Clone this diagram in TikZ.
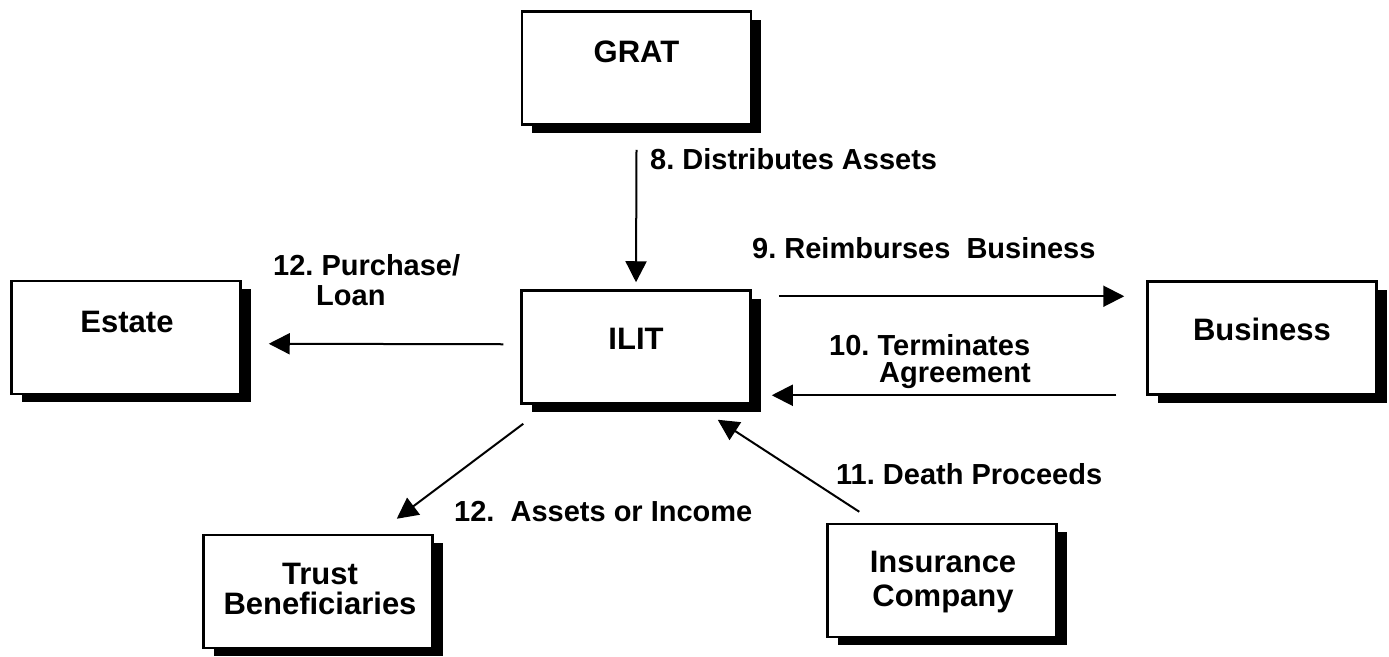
\documentclass[tikz,border=0pt]{standalone}
\usepackage{fontspec}
\setmainfont{Liberation Sans}
\usetikzlibrary{arrows.meta,shadows}
\frenchspacing
\begin{document}
\begin{tikzpicture}[x=1pt,y=-1pt,
  box/.style={draw, line width=2.5pt, fill=white, minimum width=229pt, minimum height=113pt, inner sep=0pt,
    drop shadow={shadow xshift=10pt, shadow yshift=-8pt, fill=black, opacity=1}},
  boxtext/.style={anchor=base, font=\fontsize{31}{31}\selectfont\bfseries, inner sep=0pt},
  lbl/.style={anchor=base west, font=\fontsize{29}{29}\selectfont\bfseries, inner sep=0pt},
  arr/.style={line width=2pt, -{Triangle[length=21pt,width=21pt]}}]
\useasboundingbox (0,0) rectangle (1389,656);

% boxes
\node[box] (grat) at (636.5,68) {};
\node[box] (estate) at (126,337.5) {};
\node[box] (ilit) at (636,347) {};
\node[box] (business) at (1262,338) {};
\node[box] (trust) at (318,591.5) {};
\node[box] (insurance) at (942,580.5) {};

% box texts
\node[boxtext] (gratt) at (636.5,62) {GRAT};
\node[boxtext] (estatet) at (127,332) {Estate};
\node[boxtext] (ilitt) at (636,349) {ILIT};
\node[boxtext] (businesst) at (1262,340) {Business};
\node[boxtext] (trustt1) at (320,584) {Trust};
\node[boxtext] (trustt2) at (320,614) {Beneficiaries};
\node[boxtext] (inst1) at (943,572) {Insurance};
\node[boxtext] (inst2) at (943,606) {Company};

% connectors
\draw[arr] ([yshift=-24pt]grat.south) -- ([yshift=7pt]ilit.north);
\draw[arr] ([shift={(27,7)}]ilit.north east) -- ([shift={(-22,16)}]business.north west);
\draw[arr] ([shift={(-30,115)}]business.north west) -- ([shift={(20,106)}]ilit.north east);
\draw[arr] ([shift={(-17,55)}]ilit.north west) -- ([shift={(27,64)}]estate.north east);
\draw[arr] ([shift={(3,19)}]ilit.south west) -- ([shift={(-37,-15)}]trust.north east);
\draw[arr] ([shift={(33,-11)}]insurance.north west) -- ([shift={(-34,15)}]ilit.south east);

% labels
\node[lbl] (l8) at (650,169) {8. Distributes Assets};
\node[lbl] (l9) at (752,258) {9. Reimburses\ \ Business};
\node[lbl] (l10a) at (829,355) {10. Terminates};
\node[lbl] (l10b) at (879,382) {Agreement};
\node[lbl] (l12a) at (273,275) {12. Purchase/};
\node[lbl] (l12b) at (316,305) {Loan};
\node[lbl] (l12c) at (454,521) {12.\ \ Assets or Income};
\node[lbl] (l11) at (836,484) {11. Death Proceeds};
\end{tikzpicture}
\end{document}
